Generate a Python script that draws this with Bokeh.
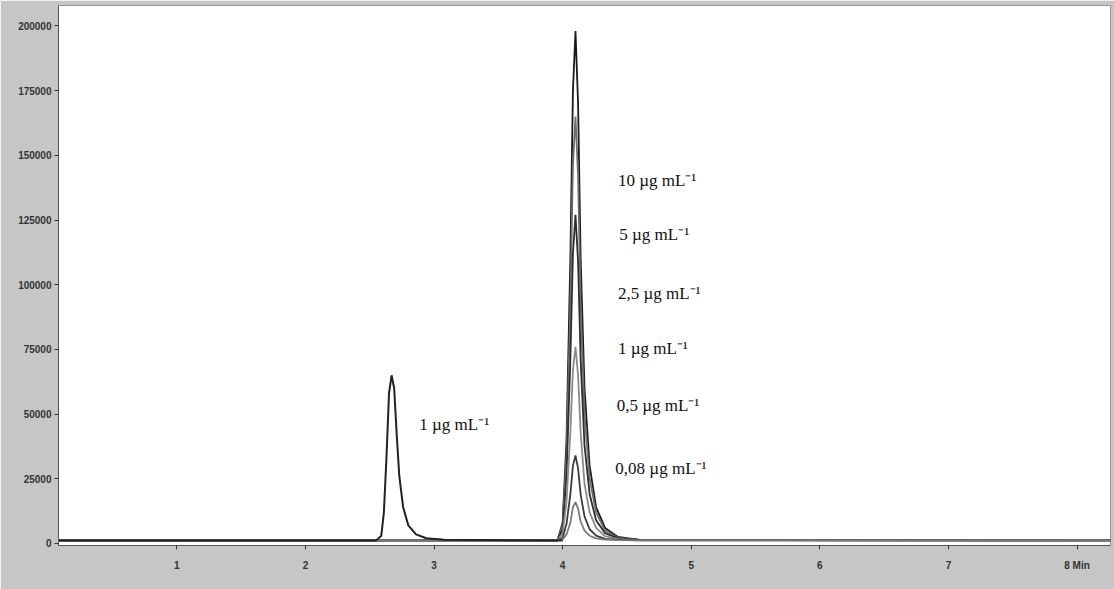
from bokeh.plotting import figure
from bokeh.models import FixedTicker, Range1d, Label
from bokeh.embed import file_html
from bokeh.resources import INLINE

# ---- data ----
x_ticks = [1, 2, 3, 4, 5, 6, 7, 8]
x_tick_labels = ["1", "2", "3", "4", "5", "6", "7", "8 Min"]
y_ticks = [0, 25000, 50000, 75000, 100000, 125000, 150000, 175000, 200000]
y_tick_labels = ["0", "25000", "50000", "75000", "100000", "125000", "150000", "175000", "200000"]

# first peak (1 ug/mL), retention ~2.67 min
peak1_time = [0.08, 2.55, 2.59, 2.61, 2.63, 2.65, 2.67, 2.69, 2.71, 2.73, 2.76, 2.80, 2.86, 2.94, 3.08, 4.00]
peak1_signal = [1200, 1200, 3000, 12000, 33000, 58000, 65000, 60000, 42000, 26000, 14000, 7000, 3500, 2000, 1400, 1200]

# second peak calibration series, retention ~4.10 min
peak2_time = [0.08, 3.96, 4.00, 4.03, 4.06, 4.08, 4.10, 4.12, 4.14, 4.17, 4.21, 4.26, 4.33, 4.43, 4.60, 8.26]
conc_labels = ["10 µg mL⁻¹", "5 µg mL⁻¹", "2,5  µg mL⁻¹", "1 µg mL⁻¹", "0,5 µg mL⁻¹", "0,08 µg mL⁻¹"]
s_10 = [1200, 1200, 8000, 40000, 110000, 175000, 198000, 170000, 110000, 60000, 30000, 14000, 6000, 2500, 1400, 1200]
s_5 = [1200, 1200, 7000, 34000, 92000, 146000, 165000, 142000, 92000, 50000, 25000, 12000, 5000, 2200, 1400, 1200]
s_2_5 = [1200, 1200, 5500, 26000, 71000, 112000, 127000, 109000, 71000, 38000, 19000, 9000, 4000, 2000, 1400, 1200]
s_1 = [1200, 1200, 3800, 16000, 43000, 67000, 76000, 65000, 43000, 23000, 12000, 6000, 2800, 1700, 1300, 1200]
s_0_5 = [1200, 1200, 2200, 7500, 19000, 30000, 34000, 29000, 19000, 10500, 5500, 3000, 1800, 1400, 1250, 1200]
s_0_08 = [1200, 1200, 1600, 3500, 8000, 14000, 16000, 13500, 8500, 5000, 3000, 2000, 1500, 1300, 1200, 1200]
series = [s_10, s_5, s_2_5, s_1, s_0_5, s_0_08]

# annotation anchor positions (data coordinates)
label_x = [4.43, 4.44, 4.43, 4.43, 4.42, 4.41]
label_y = [140400, 119300, 96700, 75300, 53400, 28900]
peak1_label = "1  µg mL⁻¹"
peak1_label_pos = (2.885, 46000)

line_colors = ["#1a1a1a", "#6e6e6e", "#2e2e2e", "#8a8a8a", "#3c3c3c", "#7a7a7a"]

p = figure(width=1114, height=589, output_backend="svg", toolbar_location=None,
           x_range=Range1d(0.08, 8.26), y_range=Range1d(-780, 207900),
           min_border_left=58, min_border_right=4, min_border_top=5, min_border_bottom=44)

p.background_fill_color = "white"
p.border_fill_color = "#c6c6c6"
p.outline_line_color = "#999999"
p.grid.visible = False

for s, c in zip(series, line_colors):
    p.line(peak2_time, s, line_color=c, line_width=1.8)
p.line(peak1_time, peak1_signal, line_color="#222222", line_width=2)

p.xaxis.ticker = FixedTicker(ticks=x_ticks)
p.xaxis.major_label_overrides = {t: l for t, l in zip(x_ticks, x_tick_labels)}
p.yaxis.ticker = FixedTicker(ticks=y_ticks)
p.yaxis.major_label_overrides = {t: l for t, l in zip(y_ticks, y_tick_labels)}

for ax in (p.xaxis[0], p.yaxis[0]):
    ax.axis_line_color = "#555555"
    ax.major_tick_line_color = "#333333"
    ax.minor_tick_line_color = None
    ax.major_tick_out = 4
    ax.major_tick_in = 0
    ax.major_label_text_font = "Liberation Sans"
    ax.major_label_text_font_size = "10px"
    ax.major_label_text_font_style = "bold"
    ax.major_label_text_color = "#333333"
p.xaxis.major_label_standoff = 10
p.yaxis.major_label_standoff = 3

for txt, lx, ly in zip(conc_labels, label_x, label_y):
    p.add_layout(Label(x=lx, y=ly, text=txt, text_font="Liberation Serif",
                       text_font_size="17px", text_baseline="middle", text_align="left",
                       text_color="#111111"))
p.add_layout(Label(x=peak1_label_pos[0], y=peak1_label_pos[1], text=peak1_label,
                   text_font="Liberation Serif", text_font_size="17px",
                   text_baseline="middle", text_align="left", text_color="#111111"))

open("out.html", "w").write(file_html(p, INLINE))
